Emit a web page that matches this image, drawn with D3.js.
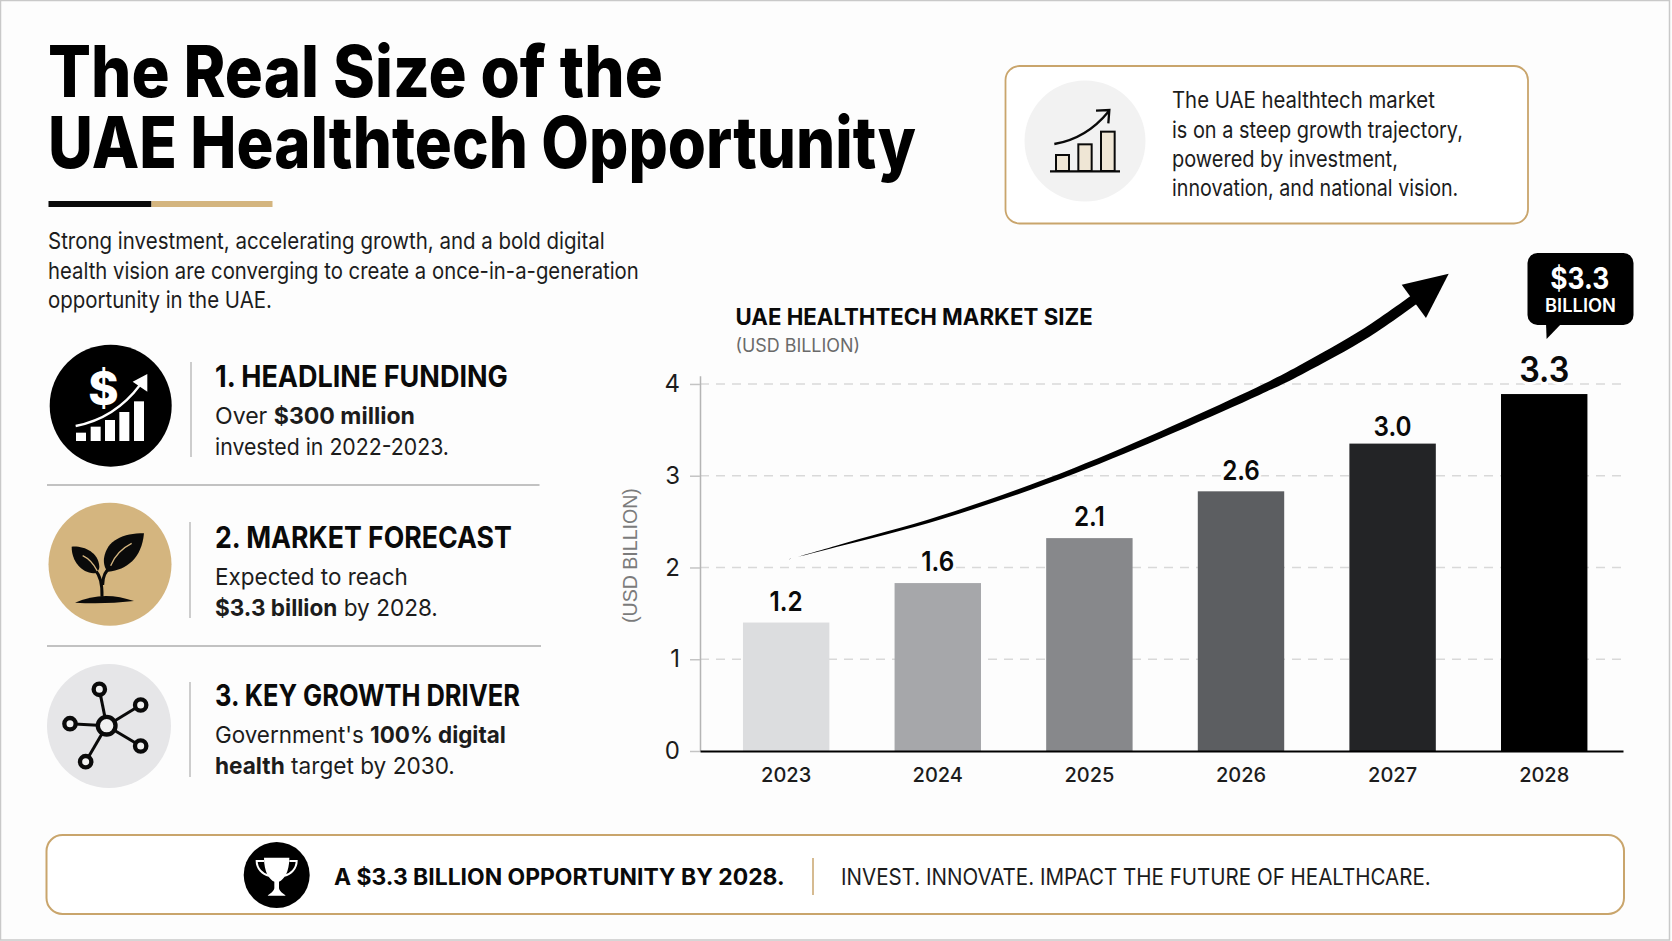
<!DOCTYPE html>
<html>
<head>
<meta charset="utf-8">
<script src="https://cdn.jsdelivr.net/npm/d3@7"></script>
<style>
  html, body { margin: 0; padding: 0; background: #fdfdfd; overflow: hidden; }
  svg { display: block; font-family: Inter, 'Noto Sans', sans-serif; }
</style>
</head>
<body>
<svg id="chart" width="1672" height="941"></svg>
<script>
const years = ['2023', '2024', '2025', '2026', '2027', '2028'];
// the bars in the picture stand taller than their printed labels, so both are kept
const barHeights = [1.40, 1.83, 2.32, 2.83, 3.35, 3.89];
const valueLabels = ['1.2', '1.6', '2.1', '2.6', '3.0', '3.3'];
const yTicks = [0, 1, 2, 3, 4];

// trend arrow, in chart units: position along the years, value on the y axis
const trendPos = [0.02, 0.33, 1.03, 1.91, 3.11, 3.39, 3.83, 4.16];
const trendVal = [2.09, 2.23, 2.55, 3.06, 3.92, 4.15, 4.56, 4.94];
const trendWidth = [0, 1.5, 3.5, 5.5, 8, 9, 10, 10];
const headPos = [4.06, 4.37, 4.22];
const headVal = [5.08, 5.20, 4.72];

const BAR_FILLS = ['#dcdddf', '#a6a7aa', '#87888b', '#5c5e61', '#232426', '#000000'];
const LABEL_GAP = [11.5, 12.5, 12, 11, 8, 12];
const GOLD = '#c9a56c';
const TAN = '#d4b57f';
const INK = '#0a0a0a';

const svg = d3.select('#chart');

svg.append('rect')
  .attr('x', 0.5).attr('y', 0.5)
  .attr('width', 1669).attr('height', 939.5)
  .attr('fill', '#fdfdfd')
  .attr('stroke', '#c9c9c9')
  .attr('stroke-width', 1.5);

// text squeezed to the width it has in the picture
function label(runs, x, y, width, size, opts = {}) {
  const t = (opts.parent || svg).append('text')
    .attr('font-size', size)
    .attr('fill', opts.fill || '#1c1c1c')
    .attr('font-family', opts.family || null)
    .attr('text-anchor', 'start');
  (typeof runs === 'string' ? [[runs, opts.weight || 400]] : runs).forEach(r => {
    t.append('tspan').attr('font-weight', r[1]).text(r[0]);
  });
  const k = width / t.node().getComputedTextLength();
  t.attr('transform', 'translate(' + x + ',' + y + ')' + (opts.rotate ? ' rotate(' + opts.rotate + ')' : '') + ' scale(' + k + ',1)');
  return t;
}

// ---- headline block
label('The Real Size of the', 48, 97, 615, 71, { weight: 800, fill: '#000' });
label('UAE Healthtech Opportunity', 48, 168, 868, 71, { weight: 800, fill: '#000' });

svg.append('rect').attr('x', 48.5).attr('y', 201).attr('width', 103).attr('height', 6).attr('fill', INK);
svg.append('rect').attr('x', 151.5).attr('y', 201).attr('width', 121).attr('height', 6).attr('fill', TAN);

label('Strong investment, accelerating growth, and a bold digital', 48, 249, 557, 23);
label('health vision are converging to create a once-in-a-generation', 48, 279, 591, 23);
label('opportunity in the UAE.', 48, 308, 224, 23);

// ---- three points on the left
const B = 700, R = 400;
label('1. HEADLINE FUNDING', 215, 387, 293, 30, { weight: 700, fill: INK });
label([['Over ', R], ['$300 million', B]], 215, 424, 200, 23.5);
label('invested in 2022-2023.', 215, 455, 234, 23.5);

label('2. MARKET FORECAST', 215, 548, 297, 30, { weight: 700, fill: INK });
label('Expected to reach', 215, 585, 193, 23.5);
label([['$3.3 billion', B], [' by 2028.', R]], 215, 616, 223, 23.5);

label('3. KEY GROWTH DRIVER', 215, 706, 305, 30, { weight: 700, fill: INK });
label([["Government's ", R], ['100% digital', B]], 215, 743, 291, 23.5);
label([['health', B], [' target by 2030.', R]], 215, 774, 240, 23.5);

[[191, 362, 457], [190, 522, 618], [190, 682, 777]].forEach(s => {
  svg.append('line').attr('x1', s[0]).attr('x2', s[0]).attr('y1', s[1]).attr('y2', s[2])
    .attr('stroke', '#bdbdbd').attr('stroke-width', 1.5);
});
[[485, 539.5], [646, 541]].forEach(d => {
  svg.append('line').attr('x1', 47).attr('x2', d[1]).attr('y1', d[0]).attr('y2', d[0])
    .attr('stroke', '#c2c2c2').attr('stroke-width', 2);
});

// ---- icons, paths are traced in 3x crop coordinates
function icon(x, y) {
  return svg.append('g').attr('transform', 'translate(' + x + ',' + y + ') scale(' + (1 / 3) + ')');
}

svg.append('circle').attr('cx', 110.7).attr('cy', 405.7).attr('r', 61).attr('fill', '#000');
const money = icon(40, 340);
[[108, 278], [152, 260], [195, 240], [238, 216], [282, 184]].forEach(b => {
  money.append('rect').attr('x', b[0]).attr('y', b[1]).attr('width', 30).attr('height', 303 - b[1]).attr('fill', '#fff');
});
money.append('path').attr('d', 'M107 258 Q225 235 300 135').attr('fill', 'none').attr('stroke', '#fff').attr('stroke-width', 7);
money.append('path').attr('d', 'M322 102 L278 125 L322 155 Z').attr('fill', '#fff');
money.append('text').attr('x', 190).attr('y', 195).attr('text-anchor', 'middle')
  .attr('font-size', 138).attr('font-weight', 800).attr('fill', '#fff').text('$');

svg.append('circle').attr('cx', 110).attr('cy', 564.3).attr('r', 61.5).attr('fill', TAN);
const plant = icon(40, 495);
plant.append('path').attr('d', 'M105 323 Q190 285 282 318 Q190 329 105 323 Z').attr('fill', '#0a0a0a');
plant.append('path').attr('d', 'M186 305 C187 265 180 240 165 225 M188 270 C188 240 198 225 215 215')
  .attr('fill', 'none').attr('stroke', '#0a0a0a').attr('stroke-width', 9);
plant.append('path').attr('d', 'M312 115 C250 115 200 135 192 190 C190 205 195 225 205 230 C260 225 305 190 312 115 Z').attr('fill', '#0a0a0a');
plant.append('path').attr('d', 'M95 155 C130 152 175 170 178 215 C178 225 170 235 160 235 C125 232 95 200 95 155 Z').attr('fill', '#0a0a0a');
plant.append('path').attr('d', 'M212 212 C225 180 245 160 275 145 M128 182 C145 190 160 205 172 228')
  .attr('fill', 'none').attr('stroke', TAN).attr('stroke-width', 4);

svg.append('circle').attr('cx', 109).attr('cy', 726).attr('r', 62).attr('fill', '#e6e6e8');
const net = icon(40, 655);
const nodes = [[178, 103], [302, 150], [302, 273], [137, 320], [90, 206]];
nodes.forEach(n => {
  net.append('line').attr('x1', 200).attr('y1', 212).attr('x2', n[0]).attr('y2', n[1])
    .attr('stroke', '#0a0a0a').attr('stroke-width', 9);
});
nodes.forEach(n => {
  net.append('circle').attr('cx', n[0]).attr('cy', n[1]).attr('r', 17)
    .attr('fill', '#f1f1f1').attr('stroke', '#0a0a0a').attr('stroke-width', 13);
});
net.append('circle').attr('cx', 200).attr('cy', 212).attr('r', 26.5)
  .attr('fill', '#f1f1f1').attr('stroke', '#0a0a0a').attr('stroke-width', 13);

// ---- top right note
svg.append('rect').attr('x', 1005.5).attr('y', 66).attr('width', 522.5).attr('height', 157.5)
  .attr('rx', 14).attr('fill', '#fff').attr('stroke', GOLD).attr('stroke-width', 1.8);
svg.append('circle').attr('cx', 1085).attr('cy', 141).attr('r', 60.5).attr('fill', '#f2f2f2');
const growth = icon(1020, 75);
[[108, 240, 39], [175, 208, 40], [243, 170, 41]].forEach(b => {
  growth.append('rect').attr('x', b[0]).attr('y', b[1]).attr('width', b[2]).attr('height', 288 - b[1])
    .attr('fill', '#efe6d5').attr('stroke', '#0a0a0a').attr('stroke-width', 6);
});
growth.append('line').attr('x1', 90).attr('x2', 300).attr('y1', 289).attr('y2', 289).attr('stroke', '#0a0a0a').attr('stroke-width', 7);
growth.append('path').attr('d', 'M103 207 Q200 190 265 110 M228 107 L268 105 L265 145')
  .attr('fill', 'none').attr('stroke', '#0a0a0a').attr('stroke-width', 7);

label('The UAE healthtech market', 1172, 108, 263, 22.5);
label('is on a steep growth trajectory,', 1172, 137.5, 291, 22.5);
label('powered by investment,', 1172, 166.5, 226, 22.5);
label('innovation, and national vision.', 1172, 196, 286.5, 22.5);

// ---- chart
const x = d3.scaleBand().domain(years).range([700, 1623])
  .paddingInner(0.43).paddingOuter(0.259).align(0.547);
const y = d3.scaleLinear().domain([0, 4.09]).range([751, 375.7]);
const xPos = d3.scaleLinear().domain([0, 5])
  .range([x(years[0]) + x.bandwidth() / 2, x(years[5]) + x.bandwidth() / 2]);

label('UAE HEALTHTECH MARKET SIZE', 735.5, 324.5, 357.5, 22.5, { weight: 700, fill: INK });
label('(USD BILLION)', 735.5, 351.5, 124.5, 18, { fill: '#6a6a6a' });
label('(USD BILLION)', 637, 623, 135, 20, { rotate: -90, fill: '#7b7b7b', family: 'Liberation Sans' });

svg.append('g').selectAll('line')
  .data(yTicks.filter(d => d > 0))
  .enter()
  .append('line')
  .attr('x1', 700)
  .attr('x2', 1623)
  .attr('y1', d => y(d))
  .attr('y2', d => y(d))
  .attr('stroke', '#d9d9d9')
  .attr('stroke-width', 1.5)
  .attr('stroke-dasharray', '9 7');

svg.append('g').selectAll('rect')
  .data(years)
  .enter()
  .append('rect')
  .attr('x', d => x(d))
  .attr('y', (d, i) => y(barHeights[i]))
  .attr('width', x.bandwidth())
  .attr('height', (d, i) => y(0) - y(barHeights[i]))
  .attr('fill', (d, i) => BAR_FILLS[i]);

const axisY = d3.axisLeft(y).tickValues(yTicks).tickFormat(d3.format('d')).tickSize(10).tickPadding(10).tickSizeOuter(0);
const gy = svg.append('g').attr('transform', 'translate(700,0)').call(axisY);
gy.select('.domain').attr('stroke', '#b5b5b5').attr('stroke-width', 1.5);
gy.selectAll('.tick line').attr('stroke', '#c4c4c4').attr('stroke-width', 1.5);
gy.selectAll('.tick text').attr('font-size', 24).attr('font-family', 'Inter').attr('fill', '#1c1c1c');

const axisX = d3.axisBottom(x).tickSize(0).tickPadding(17).tickSizeOuter(0);
const gx = svg.append('g').attr('transform', 'translate(0,' + y(0) + ')').call(axisX);
gx.select('.domain').attr('stroke', '#000').attr('stroke-width', 2);
gx.selectAll('.tick text').attr('font-size', 20).attr('font-weight', 500).attr('font-family', 'Inter').attr('fill', '#1c1c1c');

// trend arrow, thick at the head and running out to a point at the start
const centre = trendPos.map((p, i) => [xPos(p), y(trendVal[i])]);
const side = sign => centre.map((c, i) => {
  const a = centre[Math.max(i - 1, 0)];
  const b = centre[Math.min(i + 1, centre.length - 1)];
  const len = Math.hypot(b[0] - a[0], b[1] - a[1]);
  const off = sign * trendWidth[i] / 2;
  return [c[0] - (b[1] - a[1]) / len * off, c[1] + (b[0] - a[0]) / len * off];
});
const curve = d3.line().curve(d3.curveCatmullRom);
svg.append('path')
  .attr('d', curve(side(1)) + 'L' + curve(side(-1).reverse()).slice(1) + 'Z')
  .attr('fill', '#000');
svg.append('path')
  .attr('d', d3.line()(headPos.map((p, i) => [xPos(p), y(headVal[i])])) + 'Z')
  .attr('fill', '#000');

svg.append('g').selectAll('text')
  .data(valueLabels)
  .enter()
  .append('text')
  .attr('transform', (d, i) => 'translate(' + (x(years[i]) + x.bandwidth() / 2) + ',' + (y(barHeights[i]) - LABEL_GAP[i]) + ') scale(0.9,1)')
  .attr('text-anchor', 'middle')
  .attr('font-size', (d, i) => i === 5 ? 36 : 27)
  .attr('font-weight', 600)
  .attr('fill', INK)
  .attr('stroke', '#fdfdfd')
  .attr('stroke-width', 6)
  .attr('paint-order', 'stroke')
  .text(d => d);

// callout above the last bar
svg.append('rect').attr('x', 1527.5).attr('y', 253).attr('width', 106).attr('height', 72).attr('rx', 10).attr('fill', '#000');
svg.append('path').attr('d', 'M1546 323 L1546.6 339 L1562 323 Z').attr('fill', '#000');
label('$3.3', 1550.3, 288.5, 59, 30, { weight: 700, fill: '#fff' });
label('BILLION', 1545, 312, 71, 18.5, { weight: 600, fill: '#fff' });

// ---- bottom band
svg.append('rect').attr('x', 46.5).attr('y', 835).attr('width', 1577.5).attr('height', 79)
  .attr('rx', 16).attr('fill', '#fff').attr('stroke', GOLD).attr('stroke-width', 2);
svg.append('circle').attr('cx', 276.7).attr('cy', 875).attr('r', 33).attr('fill', '#000');
const trophy = icon(235, 835);
trophy.append('path').attr('d', 'M87 68 L163 68 C163 112 147 133 132 140 L132 160 C134 170 145 176 152 182 L98 182 C105 176 116 170 118 160 L118 140 C103 133 87 112 87 68 Z').attr('fill', '#fff');
trophy.append('path').attr('d', 'M87 78 L65 78 C65 100 82 118 102 122 M163 78 L185 78 C185 100 168 118 148 122')
  .attr('fill', 'none').attr('stroke', '#fff').attr('stroke-width', 6);

label('A $3.3 BILLION OPPORTUNITY BY 2028.', 334, 885, 451, 23, { weight: 700, fill: INK });
svg.append('line').attr('x1', 813).attr('x2', 813).attr('y1', 858).attr('y2', 895).attr('stroke', GOLD).attr('stroke-width', 1.5);
label('INVEST. INNOVATE. IMPACT THE FUTURE OF HEALTHCARE.', 841, 885, 590, 23);
</script>
</body>
</html>
